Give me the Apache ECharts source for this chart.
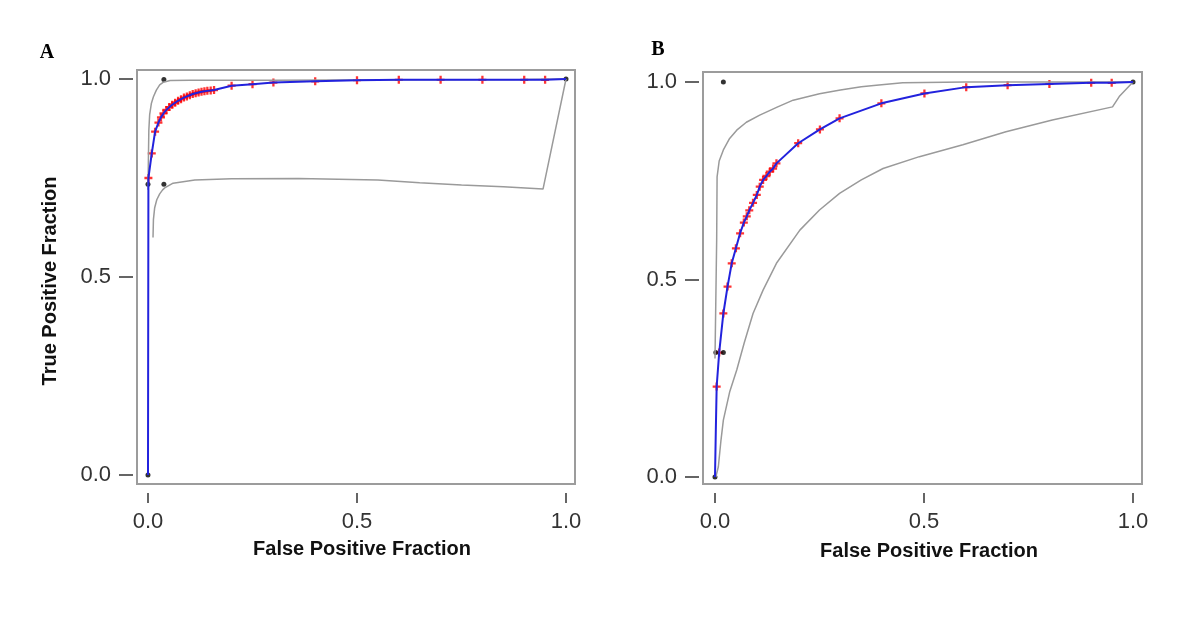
<!DOCTYPE html>
<html>
<head>
<meta charset="utf-8">
<script src="https://cdn.jsdelivr.net/npm/echarts@6/dist/echarts.min.js"></script>
<style>
  html, body { margin: 0; padding: 0; background: #fff; }
  #chart { width: 1200px; height: 630px; }
</style>
</head>
<body>
<div id="chart"></div>
<script>
// tick labels shared by both panels
const tickValues = [0, 0.5, 1];

// panel A - empirical ROC curve (red + points sit on it)
const rocA_fpf = [0, 0.001, 0.009, 0.017, 0.025, 0.031, 0.037, 0.044, 0.051, 0.058, 0.065, 0.072, 0.079, 0.086, 0.093, 0.1, 0.107, 0.114, 0.121, 0.128, 0.135, 0.142, 0.15, 0.158, 0.2, 0.25, 0.3, 0.4, 0.5, 0.6, 0.7, 0.8, 0.9, 0.95, 1];
const rocA_tpf = [0, 0.75, 0.812, 0.867, 0.89, 0.903, 0.913, 0.922, 0.929, 0.935, 0.94, 0.945, 0.949, 0.953, 0.956, 0.959, 0.962, 0.964, 0.966, 0.968, 0.969, 0.97, 0.971, 0.972, 0.983, 0.987, 0.991, 0.994, 0.997, 0.998, 0.998, 0.998, 0.998, 0.998, 1];
// panel A - confidence band
const upA_fpf = [0, 0.001, 0.002, 0.004, 0.008, 0.013, 0.02, 0.028, 0.037, 0.053, 0.1, 0.3, 0.6, 0.9, 1];
const upA_tpf = [0.72, 0.8, 0.87, 0.91, 0.938, 0.955, 0.972, 0.985, 0.992, 0.996, 0.997, 0.997, 0.998, 0.999, 1];
const loA_fpf = [0.012, 0.013, 0.016, 0.021, 0.028, 0.035, 0.04, 0.06, 0.112, 0.2, 0.36, 0.55, 0.65, 0.75, 0.85, 0.945, 1];
const loA_tpf = [0.6, 0.645, 0.675, 0.695, 0.71, 0.72, 0.725, 0.737, 0.745, 0.748, 0.749, 0.745, 0.738, 0.732, 0.728, 0.722, 1];
// panel A - black dots
const dotA_fpf = [0, 0, 0.038, 0.038, 1];
const dotA_tpf = [0, 0.734, 0.734, 0.999, 1];

// panel B
const rocB_fpf = [0, 0.002, 0.004, 0.01, 0.02, 0.03, 0.04, 0.05, 0.06, 0.069, 0.076, 0.082, 0.091, 0.1, 0.107, 0.115, 0.123, 0.131, 0.139, 0.147, 0.199, 0.251, 0.298, 0.398, 0.501, 0.601, 0.7, 0.8, 0.9, 0.949, 1];
const rocB_tpf = [0, 0.12, 0.229, 0.315, 0.414, 0.482, 0.541, 0.579, 0.617, 0.644, 0.66, 0.675, 0.694, 0.714, 0.735, 0.752, 0.762, 0.773, 0.781, 0.794, 0.845, 0.88, 0.908, 0.946, 0.971, 0.987, 0.992, 0.995, 0.998, 0.998, 1];
const upB_fpf = [0, 0.002, 0.004, 0.005, 0.01, 0.02, 0.035, 0.052, 0.075, 0.107, 0.15, 0.187, 0.25, 0.3, 0.35, 0.386, 0.449, 0.6, 0.8, 1];
const upB_tpf = [0.3, 0.45, 0.6, 0.76, 0.8, 0.828, 0.857, 0.878, 0.898, 0.916, 0.937, 0.954, 0.97, 0.98, 0.988, 0.992, 0.998, 1, 1, 1];
const loB_fpf = [0.002, 0.008, 0.014, 0.02, 0.035, 0.052, 0.07, 0.091, 0.115, 0.147, 0.203, 0.25, 0.298, 0.35, 0.402, 0.489, 0.593, 0.696, 0.807, 0.951, 0.967, 1];
const loB_tpf = [0, 0.026, 0.09, 0.144, 0.215, 0.271, 0.34, 0.414, 0.473, 0.541, 0.625, 0.676, 0.718, 0.752, 0.781, 0.811, 0.841, 0.874, 0.904, 0.937, 0.963, 1];
const dotB_fpf = [0, 0.002, 0.02, 0.02, 1];
const dotB_tpf = [0, 0.315, 0.315, 1, 1];

const zip = (xs, ys) => xs.map((x, i) => [x, ys[i]]);

const plusPath = 'path://M2.5,0H4.5V2.5H7V4.5H4.5V7H2.5V4.5H0V2.5H2.5Z';
const grayLine = {color: '#9a9a9a', width: 1.5};
const tickFont = {fontFamily: 'Liberation Sans', fontSize: 22, color: '#333'};

function xAxisFor(idx, min, max) {
    return {
        type: 'value', gridIndex: idx, min: min, max: max, offset: 9,
        axisLine: {show: false, onZero: false},
        splitLine: {show: false},
        axisTick: {show: true, length: 10, customValues: tickValues, lineStyle: {color: '#333', width: 1.5}},
        axisLabel: Object.assign({customValues: tickValues, margin: 18, formatter: v => v.toFixed(1)}, tickFont)
    };
}

function yAxisFor(idx, min, max) {
    return {
        type: 'value', gridIndex: idx, min: min, max: max, offset: 4,
        axisLine: {show: false, onZero: false},
        splitLine: {show: false},
        axisTick: {show: true, length: 14, customValues: tickValues, lineStyle: {color: '#333', width: 1.5}},
        axisLabel: Object.assign({customValues: tickValues, margin: 22, formatter: v => v.toFixed(1)}, tickFont)
    };
}

function panelSeries(idx, roc, up, lo, dots, markFrom) {
    return [
        {type: 'line', xAxisIndex: idx, yAxisIndex: idx, data: up, showSymbol: false, lineStyle: grayLine, silent: true},
        {type: 'line', xAxisIndex: idx, yAxisIndex: idx, data: lo, showSymbol: false, lineStyle: grayLine, silent: true},
        {type: 'line', xAxisIndex: idx, yAxisIndex: idx, data: roc, showSymbol: false, lineStyle: {color: '#2222dd', width: 2}},
        {type: 'scatter', xAxisIndex: idx, yAxisIndex: idx, data: roc.slice(markFrom, -1),
            symbol: plusPath, symbolSize: 8, itemStyle: {color: '#ff0000'}},
        {type: 'scatter', xAxisIndex: idx, yAxisIndex: idx, data: dots,
            symbol: 'circle', symbolSize: 5, itemStyle: {color: '#000'}}
    ];
}

const chart = echarts.init(document.getElementById('chart'), null, {renderer: 'canvas'});

const titleStyle = {font: 'bold 20px "Liberation Sans"', fill: '#111', textAlign: 'center', textVerticalAlign: 'middle'};
const letterStyle = {font: 'bold 20px "Liberation Serif"', fill: '#000', textAlign: 'center', textVerticalAlign: 'middle'};

chart.setOption({
    backgroundColor: '#fff',
    animation: false,
    grid: [
        {left: 137, top: 70, width: 438, height: 414, show: true, borderColor: '#9c9c9c', borderWidth: 2},
        {left: 703, top: 72, width: 439, height: 412, show: true, borderColor: '#9c9c9c', borderWidth: 2}
    ],
    xAxis: [xAxisFor(0, -0.0263, 1.0215), xAxisFor(1, -0.0287, 1.0215)],
    yAxis: [yAxisFor(0, -0.0227, 1.0227), yAxisFor(1, -0.0177, 1.0253)],
    series: [].concat(
        panelSeries(0, zip(rocA_fpf, rocA_tpf), zip(upA_fpf, upA_tpf), zip(loA_fpf, loA_tpf), zip(dotA_fpf, dotA_tpf), 1),
        panelSeries(1, zip(rocB_fpf, rocB_tpf), zip(upB_fpf, upB_tpf), zip(loB_fpf, loB_tpf), zip(dotB_fpf, dotB_tpf), 2)
    ),
    graphic: [
        {type: 'text', x: 47, y: 53, style: Object.assign({text: 'A'}, letterStyle)},
        {type: 'text', x: 658, y: 50, style: Object.assign({text: 'B'}, letterStyle)},
        {type: 'text', x: 362, y: 549, style: Object.assign({text: 'False Positive Fraction'}, titleStyle)},
        {type: 'text', x: 929, y: 551, style: Object.assign({text: 'False Positive Fraction'}, titleStyle)},
        {type: 'text', x: 50, y: 281, rotation: Math.PI / 2, style: Object.assign({text: 'True Positive Fraction'}, titleStyle)}
    ]
});
</script>
</body>
</html>
